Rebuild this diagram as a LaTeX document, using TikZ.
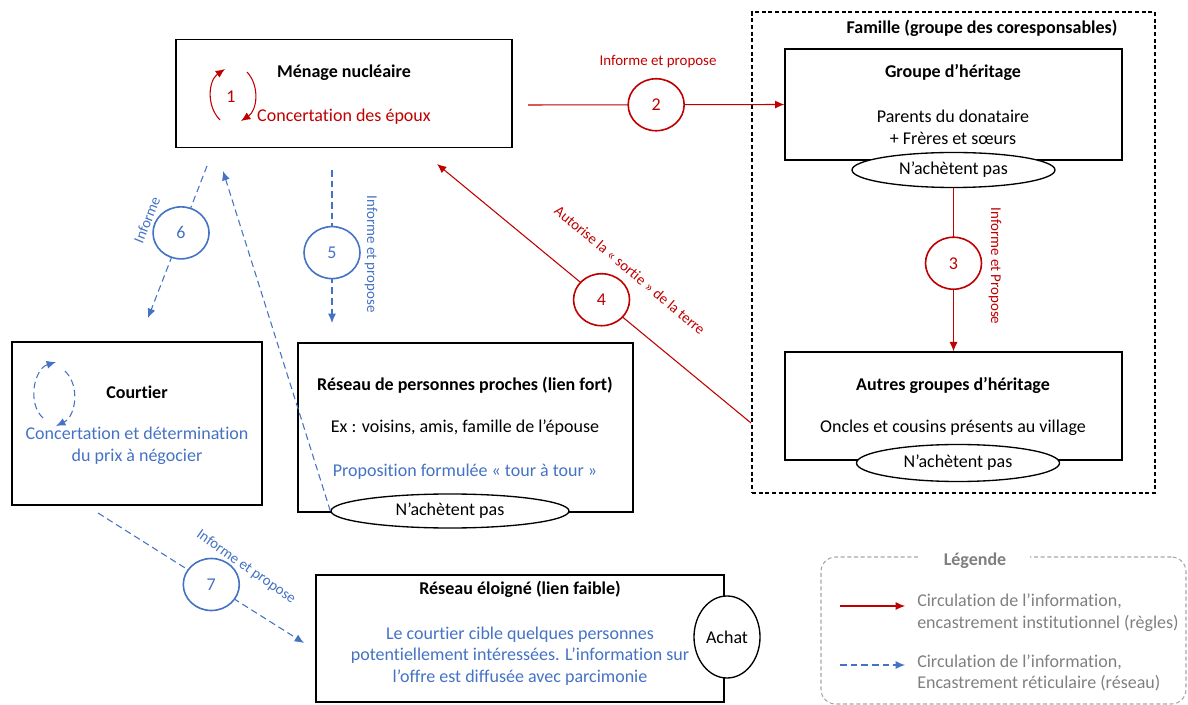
\documentclass[tikz,border=0pt]{standalone}
\usepackage{fontspec}
\setmainfont[Ligatures=NoCommon]{Carlito}
\usetikzlibrary{shapes.geometric,arrows.meta}
\definecolor{rouge}{HTML}{C00000}
\definecolor{bleu}{HTML}{4472C4}
\definecolor{gristexte}{HTML}{7F7F7F}
\definecolor{griscadre}{HTML}{A6A6A6}
\tikzset{
  boite/.style 2 args={draw,line width=1pt,minimum width=#1*0.75pt,minimum height=#2*0.75pt,inner sep=0pt},
  ovale/.style 2 args={draw,fill=white,ellipse,line width=1pt,minimum width=#1*0.75pt,minimum height=#2*0.75pt,inner sep=0pt,font=\fontsize{13.5}{16}\selectfont},
  num/.style={draw,solid,fill=white,ellipse,line width=1.2pt,minimum width=42pt,minimum height=39pt,inner sep=0pt,font=\fontsize{13.5}{16}\selectfont},
  titre/.style={font=\fontsize{13.5}{16}\selectfont\bfseries},
  texte/.style={font=\fontsize{13.5}{16.3}\selectfont,align=center},
  lbl/.style={font=\fontsize{11.2}{13}\selectfont},
  inst/.style={rouge,line width=0.8pt,->},
  reti/.style={bleu,line width=0.8pt,->,dash pattern=on 5pt off 3pt},
}
\begin{document}
\begin{tikzpicture}[>={Latex[length=7pt,width=6pt]},x=0.75pt,y=-0.75pt]
        \useasboundingbox (0,0) rectangle (1188,705);
        % cadres
        \node[boite={403}{481},dash pattern=on 3pt off 2pt] (famille) at (953.5,252.5){};
        \node[titre] (tf) at (982,28){Famille (groupe des coresponsables)};
        \node[boite={336}{108}] (menage) at (344,93.5){};
        \node[boite={337}{111}] (groupe) at (953.5,104.5){};
        \node[boite={337}{108}] (autres) at (953.5,406){};
        \node[boite={250}{163}] (courtier) at (137,423.5){};
        \node[boite={335}{169}] (proches) at (465.5,427.5){};
        \node[boite={408}{127}] (eloigne) at (520,638.5){};
        \node[ovale={203}{35}] (nap1) at (953.5,170){N’achètent pas};
        \node[ovale={203}{37}] (nap2) at (958,463){N’achètent pas};
        \node[ovale={238}{34}] (nap3) at (450,511){N’achètent pas};
        \node[ovale={66}{82}] (achat) at (727,637){Achat};
        % textes
        \node[titre] (t1) at (344,73){Ménage nucléaire};
        \node[texte,text=rouge] (t1b) at (344,117){Concertation des époux};
        \node[texte,text=rouge] (un) at (231,97){1};
        \node[titre] (t2) at (953,72){Groupe d’héritage};
        \node[texte] (t2b) at (953,127){Parents du donataire\\+ Frères et sœurs};
        \node[titre] (t3) at (953,385){Autres groupes d’héritage};
        \node[texte] (t3b) at (953,428){Oncles et cousins présents au village};
        \node[titre] (t4) at (137,392){Courtier};
        \node[texte,text=bleu] (t4b) at (137,446){Concertation et détermination\\du prix à négocier};
        \node[titre] (t5) at (465,385){Réseau de personnes proches (lien fort)};
        \node[texte] (t5b) at (465,428){Ex : voisins, amis, famille de l’épouse};
        \node[texte,text=bleu] (t5c) at (465,472){Proposition formulée « tour à tour »};
        \node[titre] (t6) at (520,589){Réseau éloigné (lien faible)};
        \node[texte,text=bleu] (t6b) at (520,656){Le courtier cible quelques personnes\\potentiellement intéressées. L’information sur\\l’offre est diffusée avec parcimonie};
        % boucles
        \draw[rouge,line width=0.8pt,->](220,120) to[bend left=50] (225,69);
        \draw[rouge,line width=0.8pt,->](247,72) to[bend left=50] (241,121);
        \draw[reti](43,418) to[bend left=60] (56,362);
        \draw[reti](65,371) to[bend left=55] (56,426);
        % fleches
        \coordinate (d2) at (528,105);
        \coordinate (d4) at (751,423);
        \coordinate (f4) at (437,164);
        \coordinate (d6) at (207,166);
        \coordinate (f6) at (148,318);
        \coordinate (f8) at (223,171);
        \coordinate (d5) at (332,170);
        \coordinate (f5) at (332,323);
        \coordinate (d7) at (98,513);
        \coordinate (f7) at (304,643);
        \draw[inst](d2)--node[num]{2}(groupe.west);
        \draw[inst](nap1.south)--node[num,pos=0.46]{3}(autres.north);
        \draw[inst](d4)--node[num,pos=0.476]{4}(f4);
        \draw[reti](d5)--node[num,pos=0.54]{5}(f5);
        \draw[reti](d6)--node[num,pos=0.44]{6}(f6);
        \draw[reti](nap3.west)--(f8);
        \draw[reti](d7)--node[num,pos=0.55]{7}(f7);
        \node[lbl,text=rouge] (l2) at (658,62){Informe et propose};
        \node[lbl,text=rouge,rotate=-90] (l3) at (995,266){Informe et Propose};
        \node[lbl,text=rouge,rotate=-40] (l4) at (630,270){Autorise la « sortie » de la terre};
        \node[lbl,text=bleu,rotate=-90] (l5) at (371,254){Informe et propose};
        \node[lbl,text=bleu,rotate=68] (l6) at (147,220){Informe};
        \node[lbl,text=bleu,rotate=-35] (l7) at (246,567){Informe et propose};
        % legende
        \node[draw=griscadre,dash pattern=on 3pt off 2pt,rounded corners=11pt,line width=0.8pt,minimum width=365*0.75pt,minimum height=147*0.75pt] (legende) at (1003.5,630.5){};
        \node[titre,text=gristexte,fill=white,inner xsep=18pt,inner ysep=1pt] (legtitre) at (975,561){Légende};
        \node[texte,align=left,anchor=west,text=gristexte,inner sep=0pt] (leg1) at (917,613){Circulation de l’information,\\encastrement institutionnel (règles)};
        \node[texte,align=left,anchor=west,text=gristexte,inner sep=0pt] (leg2) at (917,673){Circulation de l’information,\\Encastrement réticulaire (réseau)};
        \coordinate (lr1) at (840,606);
        \coordinate (lr2) at (905,606);
        \coordinate (lb1) at (840,665);
        \coordinate (lb2) at (905,665);
        \draw[inst](lr1)--(lr2);
        \draw[reti](lb1)--(lb2);
    \end{tikzpicture}
\end{document}
